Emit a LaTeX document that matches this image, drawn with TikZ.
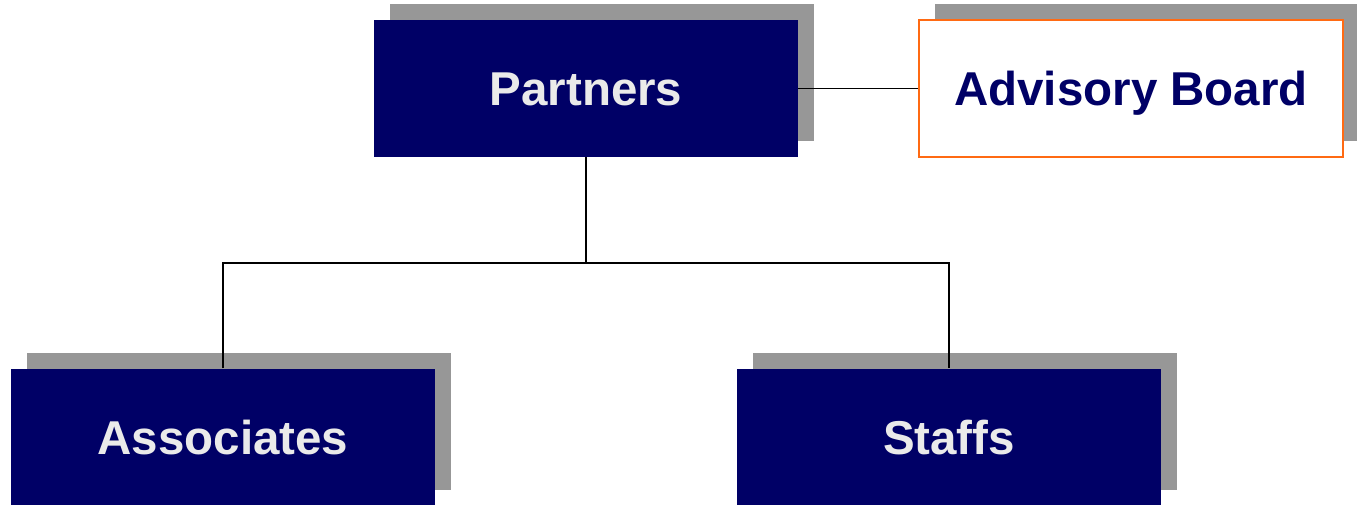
\documentclass[tikz,border=0pt]{standalone}
\usepackage{fontspec}
\setmainfont{Liberation Sans}
\usetikzlibrary{shadows}
\definecolor{navy}{HTML}{000066}
\definecolor{naranja}{HTML}{FF6A13}
\definecolor{textogris}{HTML}{EAEAEA}
\definecolor{sombra}{HTML}{979797}
\begin{document}
\begin{tikzpicture}[x=1pt,y=1pt]
	
	% --- medidas ---
	\newcommand{\BoxW}{424pt}
	\newcommand{\BoxH}{137pt}
	
	% estilos
	\tikzset{
		caja/.style  = {rectangle, minimum width=\BoxW, minimum height=\BoxH, inner sep=0pt,
			text height=34pt, text depth=0pt,
			font=\fontsize{47.5}{57}\selectfont\bfseries,
			drop shadow={shadow xshift=16pt, shadow yshift=16pt, fill=sombra, opacity=1}},
		azul/.style  = {caja, fill=navy, text=textogris},
		borde/.style = {caja, fill=white, draw=naranja, line width=2pt, text=navy},
		linea/.style = {black, line width=1.3pt},
		tronco/.style = {black, line width=2pt},
	}
	
	% marco
	\useasboundingbox (0,0) rectangle (1357,504);
	
	% cajas
	\node[azul]  (partners)   at (586,415.5)  {Partners};
	\node[borde] (advisory)   at (1131,415.5) {Advisory Board};
	\node[azul]  (associates) at (223,67)     {Associates};
	\node[azul]  (staffs)     at (949,67)     {Staffs};
	
	% conexiones
	\coordinate (cruce) at (586,241);
	\draw[linea]  (partners) -- (advisory);
	\draw[tronco] (partners.south) -- (cruce);
	\draw[linea]  (associates.north) |- (cruce) -| (staffs.north);
	
\end{tikzpicture}
\end{document}
